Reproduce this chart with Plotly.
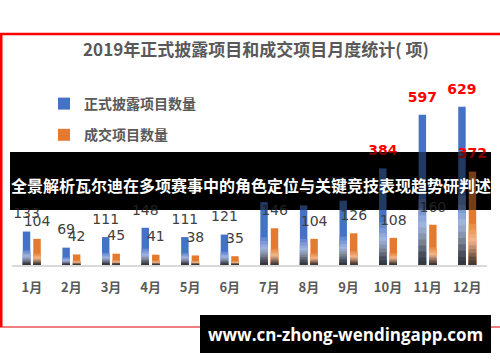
import plotly.graph_objects as go

# ---------------- data ----------------
months = ["1月", "2月", "3月", "4月", "5月", "6月", "7月", "8月", "9月", "10月", "11月", "12月"]
disclosed = [133, 69, 111, 148, 111, 121, 250, 237, 256, 384, 597, 629]
deals = [104, 42, 45, 41, 38, 35, 146, 104, 126, 108, 160, 372]
series_names = ["正式披露项目数量", "成交项目数量"]
title_text = "2019年正式披露项目和成交项目月度统计( 项)"
banner_text = "全景解析瓦尔迪在多项赛事中的角色定位与关键竞技表现趋势研判述"
watermark_text = "www.cn-zhong-wendingapp.com"

# ---------------- geometry helpers ----------------
W, H = 500, 362
PL, PR, PT, PB = 12, 487, 80, 265  # plot area in pixels
YMAX = (PB - PT) / 0.2515


def px(x):
    return (x - PL) / (PR - PL)


def py(y):
    return (PB - y) / (PB - PT)


CJK = "Noto Sans CJK SC, Noto Sans, sans-serif"
GRAY = "#595959"


def hex2rgb(h):
    h = h.lstrip("#")
    return [int(h[i:i + 2], 16) for i in (0, 2, 4)]


def interp(stops, f):
    for (f1, c1), (f0, c0) in zip(stops[:-1], stops[1:]):
        if f0 <= f <= f1:
            t = (f - f0) / (f1 - f0) if f1 != f0 else 0
            a, b = hex2rgb(c0), hex2rgb(c1)
            r = [round(a[i] + (b[i] - a[i]) * t) for i in range(3)]
            return "rgb(%d,%d,%d)" % tuple(r)
    return stops[-1][1]


blue_stops = [(1.0, "#4472C4"), (0.44, "#4A76C6"), (0.32, "#7E9BD6"), (0.24, "#A2B5E0"),
              (0.15, "#7C8598"), (0.07, "#464953"), (0.0, "#2E2F36")]
orange_stops = [(1.0, "#E57A2E"), (0.44, "#E07C34"), (0.32, "#EC9E62"), (0.24, "#F3B78C"),
                (0.15, "#A57E68"), (0.07, "#564842"), (0.0, "#383332")]
band_fracs = [0.44, 0.38, 0.33, 0.29, 0.25, 0.21, 0.17, 0.13, 0.09, 0.05, 0.025]

fig = go.Figure()

for name, vals, stops, grp, lg in [(series_names[0], disclosed, blue_stops, "a", "g1"),
                                   (series_names[1], deals, orange_stops, "b", "g2")]:
    fig.add_trace(go.Bar(x=months, y=vals, name=name, offsetgroup=grp, legendgroup=lg,
                         marker=dict(color=stops[0][1], line=dict(width=0)),
                         hoverinfo="skip"))
    for f in band_fracs:
        fig.add_trace(go.Bar(x=months, y=[v * f for v in vals], offsetgroup=grp,
                             showlegend=False,
                             marker=dict(color=interp(stops, f * 0.85), line=dict(width=0)),
                             hoverinfo="skip"))

# data labels
for vals, grp in [(disclosed, "a"), (deals, "b")]:
    colors = ["#FF0000" if v >= 300 else "#404040" for v in vals]
    fig.add_trace(go.Scatter(x=months, y=vals, mode="markers+text", offsetgroup=grp,
                             text=[str(v) for v in vals], textposition="top center",
                             textfont=dict(family="DejaVu Sans, sans-serif", size=14, color=colors,
                                           weight=["bold" if v >= 300 else "normal" for v in vals]),
                             marker=dict(size=14, opacity=0), showlegend=False,
                             hoverinfo="skip"))

shapes = [
    dict(type="rect", xref="paper", yref="paper", x0=px(10), x1=px(491), y0=py(210), y1=py(152),
         fillcolor="black", line=dict(width=0), layer="below"),
    dict(type="rect", xref="paper", yref="paper", x0=px(10), x1=px(491), y0=py(210), y1=py(152),
         fillcolor="rgba(0,0,0,0.5)", line=dict(width=0), layer="above"),
    dict(type="line", xref="paper", yref="paper", x0=px(0), x1=px(500), y0=py(34), y1=py(34),
         line=dict(color="#FF0000", width=2.5)),
    dict(type="line", xref="paper", yref="paper", x0=px(1), x1=px(1), y0=py(34), y1=py(327),
         line=dict(color="#FF0000", width=3)),
    dict(type="line", xref="paper", yref="paper", x0=px(0), x1=px(500), y0=py(327), y1=py(327),
         line=dict(color="#E00000", width=1.2)),
    dict(type="rect", xref="paper", yref="paper", x0=px(200), x1=px(491), y0=py(353), y1=py(315),
         fillcolor="black", line=dict(width=0), layer="above"),
]

annotations = [
    dict(text=banner_text, xref="paper", yref="paper", x=px(250.5), y=py(184.5),
         showarrow=False, xanchor="center", yanchor="middle",
         font=dict(family=CJK, size=16, color="white", weight="bold")),
    dict(text=watermark_text, xref="paper", yref="paper", x=px(345), y=py(334),
         showarrow=False, xanchor="center", yanchor="middle",
         font=dict(family="Open Sans, sans-serif", size=17, color="white", weight="bold")),
]

fig.update_layout(
    width=W, height=H,
    margin=dict(l=PL, r=W - PR, t=PT, b=H - PB, pad=0),
    paper_bgcolor="white", plot_bgcolor="white",
    barmode="group", bargap=0.47, bargroupgap=0.29,
    scattermode="group",
    hovermode=False,
    title=dict(text=title_text, x=256 / W, xanchor="center", y=1 - 50 / H, yanchor="middle",
               font=dict(family=CJK, size=17, color=GRAY, weight="bold")),
    legend=dict(x=px(44), xanchor="left", y=py(88), yanchor="top", tracegroupgap=10,
                font=dict(family=CJK, size=14, color=GRAY, weight="bold"),
                bgcolor="rgba(0,0,0,0)"),
    xaxis=dict(showgrid=False, showline=True, linecolor="#D9D9D9", linewidth=2,
               ticks="outside", ticklen=9, tickcolor="rgba(0,0,0,0)",
               tickfont=dict(family=CJK, size=13, color=GRAY, weight="bold"), fixedrange=True),
    yaxis=dict(range=[0, YMAX], visible=False, showgrid=False, zeroline=False, fixedrange=True),
    shapes=shapes,
    annotations=annotations,
)

fig.write_html("out.html", config={"displayModeBar": False},
               post_script="document.body.style.margin='0px';document.body.style.padding='0px';")
